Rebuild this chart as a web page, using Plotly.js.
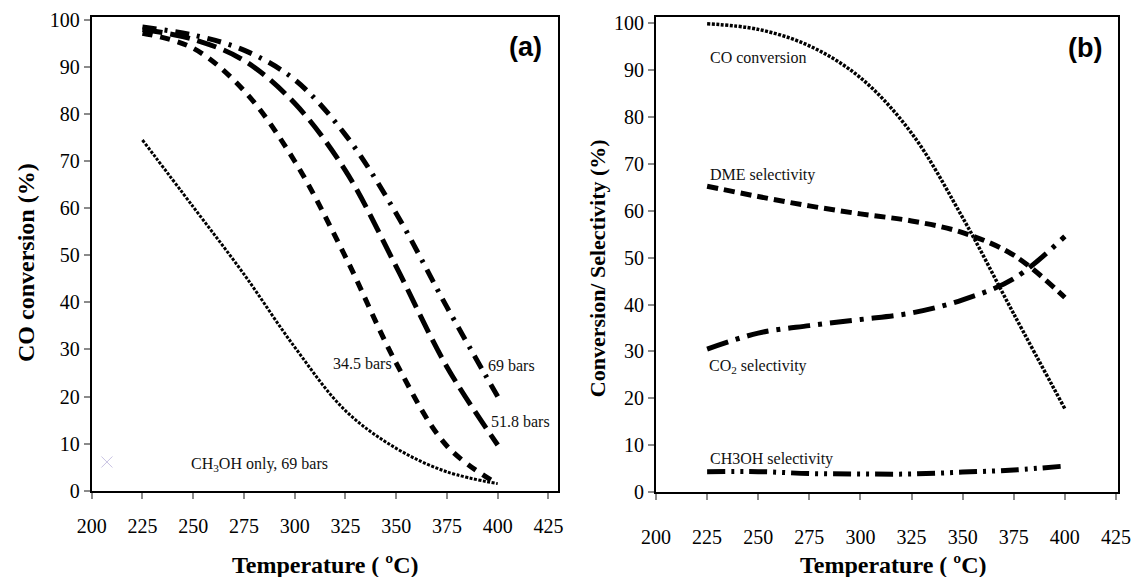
<!DOCTYPE html>
<html>
<head>
<meta charset="utf-8">
<script src="https://cdn.plot.ly/plotly-3.0.1.min.js"></script>
<style>html,body{margin:0;padding:0;background:#fff;}#chart{width:1139px;height:577px;}</style>
</head>
<body>
<div id="chart"></div>
<script>
// ---- data ----
var temperature = [225, 250, 275, 300, 325, 350, 375, 400];
// panel (a): CO conversion (%)
var conv_34_5 = [97.2, 94, 85, 70, 49.7, 27.1, 9.5, 1.4];
var conv_51_8 = [98, 95.9, 91.4, 82.3, 68, 47.6, 26.3, 9.7];
var conv_69 = [98.5, 96.8, 93.6, 87.3, 75.6, 58.9, 39, 20];
var conv_ch3oh_only = [74.5, 60.3, 46, 30.5, 17, 9, 4, 1.5];
var stray_x = [207.5];
var stray_y = [6.1];
// panel (b): conversion / selectivity (%)
var co_conversion = [99.8, 98.6, 95.1, 88.3, 76.5, 58.5, 38, 17.8];
var dme_selectivity = [65.2, 63, 61, 59.3, 57.8, 55.3, 50.5, 41.5];
var co2_selectivity = [30.5, 33.9, 35.5, 36.8, 38.2, 41, 45.5, 54.5];
var ch3oh_selectivity = [4.4, 4.4, 4.0, 3.9, 3.9, 4.3, 4.75, 5.6];
var xTicks = [200, 225, 250, 275, 300, 325, 350, 375, 400, 425];
var yTicks = [0, 10, 20, 30, 40, 50, 60, 70, 80, 90, 100];

var W = 1139, H = 577;
function px(x){ return x / W; }
function py(y){ return (H - y) / H; }

function line(x, y, dash, width, xa, ya){
  return {x: x, y: y, type: 'scatter', mode: 'lines', xaxis: xa, yaxis: ya,
    line: {color: '#000', width: width, dash: dash, shape: 'spline', smoothing: 1},
    hoverinfo: 'skip'};
}

var traces = [
  line(temperature, conv_34_5, '10px,8px', 5, 'x', 'y'),
  line(temperature, conv_51_8, '20px,8px', 5, 'x', 'y'),
  line(temperature, conv_69, '14px,8px,3px,8px', 5, 'x', 'y'),
  line(temperature, conv_ch3oh_only, '3px,1.5px', 3, 'x', 'y'),
  {x: stray_x, y: stray_y, type: 'scatter', mode: 'markers', xaxis: 'x', yaxis: 'y',
   marker: {symbol: 'x-thin-open', size: 11, color: '#c9c3e3', line: {color: '#c9c3e3', width: 1}}, hoverinfo: 'skip'},
  line(temperature, co_conversion, '3px,1.5px', 3.5, 'x2', 'y2'),
  line(temperature, dme_selectivity, '11px,6px', 5, 'x2', 'y2'),
  line(temperature, co2_selectivity, '22px,8px,4px,8px', 5, 'x2', 'y2'),
  line(temperature, ch3oh_selectivity, '18px,6px,3px,6px,3px,6px', 5, 'x2', 'y2')
];

var serif = 'Liberation Serif, Times New Roman, serif';
var tickFont = {family: serif, size: 20, color: '#000'};
function xax(domain, range, standoff, anchor){
  return {domain: domain, range: range, anchor: anchor, tickmode: 'array', tickvals: xTicks,
    ticks: 'outside', ticklen: 6, tickwidth: 2, tickcolor: '#8a8a8a',
    showline: true, linecolor: '#000', linewidth: 2, mirror: true,
    showgrid: false, zeroline: false, tickfont: tickFont, ticklabelstandoff: standoff, fixedrange: true};
}
function yax(domain, range, anchor){
  return {domain: domain, range: range, anchor: anchor, tickmode: 'array', tickvals: yTicks,
    ticks: 'outside', ticklen: 6, tickwidth: 2, tickcolor: '#8a8a8a',
    showline: true, linecolor: '#000', linewidth: 2, mirror: true,
    showgrid: false, zeroline: false, tickfont: tickFont, ticklabelstandoff: 0, fixedrange: true};
}

var labFont = {family: serif, size: 16, color: '#111'};
function dataLabel(text, x, y, xanchor, xref, yref){
  return {text: text, x: x, y: y, xref: xref, yref: yref, xanchor: xanchor, yanchor: 'middle',
    showarrow: false, font: labFont};
}
function paperText(text, x, y, font, angle){
  return {text: text, x: px(x), y: py(y), xref: 'paper', yref: 'paper', xanchor: 'center', yanchor: 'middle',
    showarrow: false, font: font, textangle: angle || 0};
}
var leftTitleFont = {family: serif, size: 24, color: '#000', weight: 'bold'};
var rightTitleFont = {family: serif, size: 22, color: '#000', weight: 'bold'};
var xTitleFont = {family: serif, size: 24, color: '#000', weight: 'bold'};
var panelFont = {family: 'Liberation Sans, Arial, sans-serif', size: 27, color: '#000', weight: 'bold'};

var layout = {
  width: W, height: H, margin: {l: 0, r: 0, t: 0, b: 0},
  font: {family: serif, size: 16, color: '#000'},
  paper_bgcolor: '#fff', plot_bgcolor: '#fff', showlegend: false,
  xaxis: xax([px(91.7), px(558)], [200, 429.7], 10, 'y'),
  yaxis: yax([py(490.7), py(16.7)], [0, 100.7], 'x'),
  xaxis2: xax([px(656), px(1118)], [200, 426], 20, 'y2'),
  yaxis2: yax([py(492.3), py(16.7)], [0, 101.3], 'x2'),
  annotations: [
    dataLabel('34.5 bars', 348.8, 27.1, 'right', 'x', 'y'),
    dataLabel('69 bars', 394.2, 26.5, 'left', 'x', 'y'),
    dataLabel('51.8 bars', 395.8, 14.7, 'left', 'x', 'y'),
    dataLabel('CH<sub>3</sub>OH only, 69 bars', 282.5, 5.5, 'center', 'x', 'y'),
    dataLabel('CO conversion', 225.3, 92.6, 'left', 'x2', 'y2'),
    dataLabel('DME selectivity', 225.5, 67.5, 'left', 'x2', 'y2'),
    dataLabel('CO<sub>2</sub> selectivity', 225, 26.8, 'left', 'x2', 'y2'),
    dataLabel('CH3OH selectivity', 225.3, 7.0, 'left', 'x2', 'y2'),
    paperText('CO conversion (%)', 26, 263, leftTitleFont, -90),
    paperText('Conversion/ Selectivity (%)', 597.6, 268.6, rightTitleFont, -90),
    paperText('Temperature ( ºC)', 325, 565, xTitleFont, 0),
    paperText('Temperature ( ºC)', 894, 565, xTitleFont, 0),
    paperText('(a)', 525, 47, panelFont, 0),
    paperText('(b)', 1085, 48, panelFont, 0)
  ]
};

Plotly.newPlot('chart', traces, layout, {staticPlot: true, displayModeBar: false});
</script>
</body>
</html>
